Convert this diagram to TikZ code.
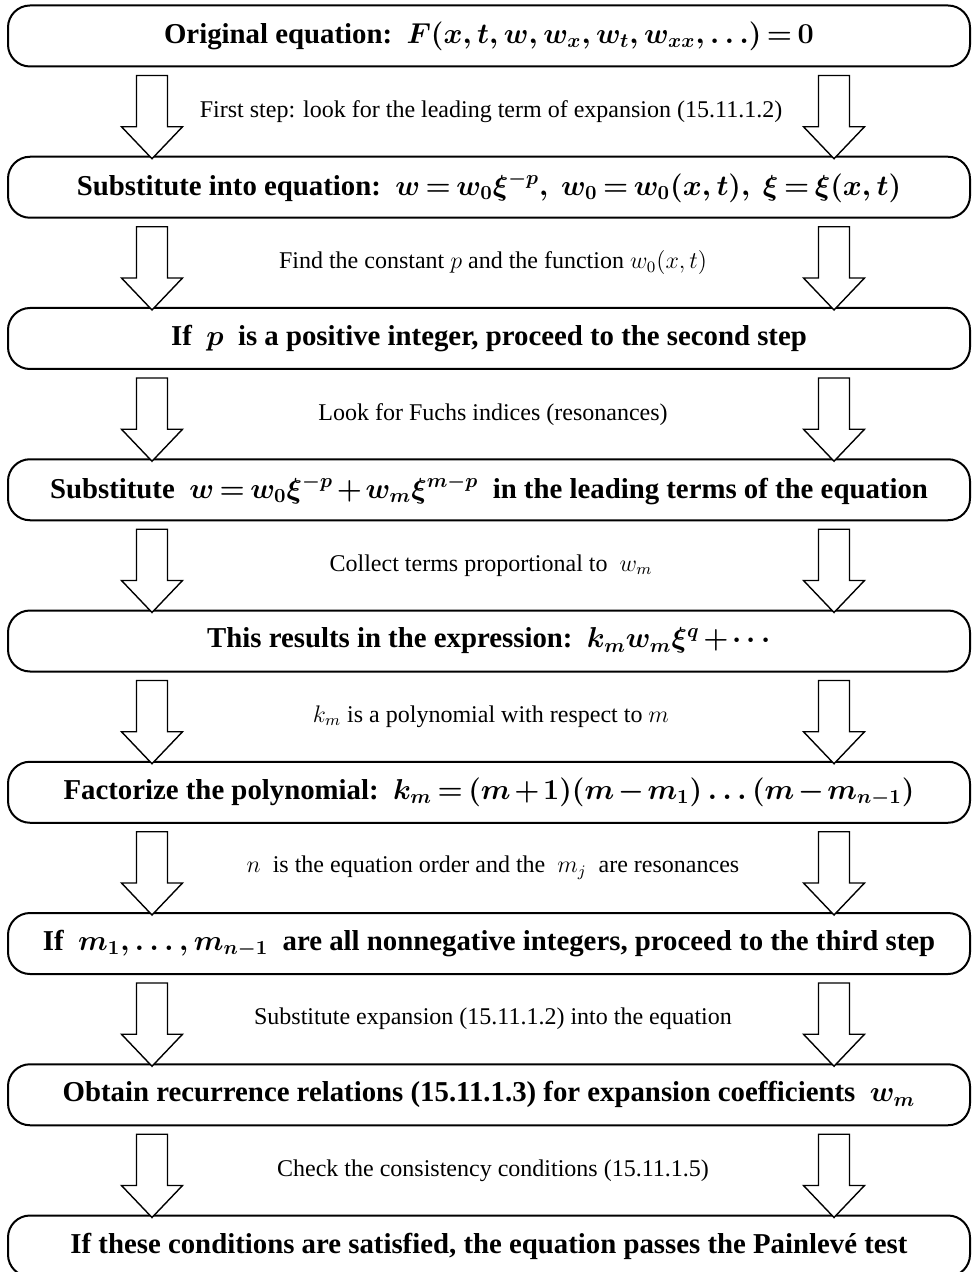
\documentclass[tikz,border=0pt]{standalone}
\usepackage[no-math]{fontspec}
\setmainfont{Liberation Serif}
\usetikzlibrary{calc}
\DeclareMathSizes{14.4}{13.6}{10}{7}
\newcommand{\tightmath}{\thickmuskip=3mu plus 2mu\relax\medmuskip=2mu plus 1mu\relax}

\tikzset{
  stepbox/.style={draw, line width=1pt, rounded corners=11pt, minimum width=481pt,
    minimum height=30.5pt, inner sep=0pt,
    font=\fontsize{14.4}{17}\selectfont\bfseries\boldmath\tightmath},
  steplabel/.style={font=\fontsize{12}{14}\selectfont, inner sep=1pt},
  fat/.style={draw, line width=0.7pt, line join=miter, fill=white},
}

% hollow block arrow: top of shaft, tip
\newcommand{\blockarrow}[2]{%
  \draw[fat] ($(#1)+(-7.75pt,0)$) -- ($(#2)+(-7.75pt,16pt)$) -- ($(#2)+(-15.25pt,16pt)$) -- (#2)
    -- ($(#2)+(15.25pt,16pt)$) -- ($(#2)+(7.75pt,16pt)$) -- ($(#1)+(7.75pt,0)$) -- cycle;}

\begin{document}
\begin{tikzpicture}
\fill[white] (0,0) rectangle (486pt,-636pt);
\useasboundingbox (0,0) rectangle (486pt,-636pt);

% steps
\node[stepbox] (b1) at (244.5pt,-18pt) {Original equation:~~$F(x,t,w,w_x,w_t,w_{xx},\dots)=0$};
\node[stepbox] (b2) at (244.5pt,-93.625pt) {Substitute into equation:~~$w=w_0\xi^{-p},\ w_0=w_0(x,t),\ \xi=\xi(x,t)$};
\node[stepbox] (b3) at (244.5pt,-169.25pt) {If~~$p$~~is a positive integer, proceed to the second step};
\node[stepbox] (b4) at (244.5pt,-244.875pt) {Substitute~~$w=w_0\xi^{-p}+w_m\xi^{m-p}$~~in the leading terms of the equation};
\node[stepbox] (b5) at (244.5pt,-320.5pt) {This results in the expression:~~$k_mw_m\xi^q+\cdots$};
\node[stepbox] (b6) at (244.5pt,-396.125pt) {Factorize the polynomial:~~$k_m=(m+1)(m-m_1)\dots(m-m_{n-1})$};
\node[stepbox] (b7) at (244.5pt,-471.75pt) {If~~$m_1,\dots,m_{n-1}$~~are all nonnegative integers, proceed to the third step};
\node[stepbox] (b8) at (244.5pt,-547.375pt) {Obtain recurrence relations (15.11.1.3) for expansion coefficients~~$w_m$};
\node[stepbox] (b9) at (244.5pt,-623pt) {If these conditions are satisfied, the equation passes the Painlev\'e test};

% arrows
\foreach \i [evaluate=\i as \j using int(\i+1)] in {1,...,8}{
  \path (b\i.south west) ++(72.5pt,-4pt) coordinate (lt\i);
  \path (b\j.north west) ++(72.5pt,-1.5pt) coordinate (lh\i);
  \path (b\i.south east) ++(-68.5pt,-4pt) coordinate (rt\i);
  \path (b\j.north east) ++(-68.5pt,-1.5pt) coordinate (rh\i);
  \blockarrow{lt\i}{lh\i}
  \blockarrow{rt\i}{rh\i}
}

% labels
\node[steplabel] (l1) at ($(b1.south)!0.5!(b2.north)+(1pt,0)$) {First step: look for the leading term of expansion (15.11.1.2)};
\node[steplabel] (l2) at ($(b2.south)!0.5!(b3.north)+(2pt,0)$) {Find the constant $p$ and the function $w_0(x,t)$};
\node[steplabel] (l3) at ($(b3.south)!0.5!(b4.north)+(2pt,0)$) {Look for Fuchs indices (resonances)};
\node[steplabel] (l4) at ($(b4.south)!0.5!(b5.north)+(1pt,0)$) {Collect terms proportional to~~$w_m$};
\node[steplabel] (l5) at ($(b5.south)!0.5!(b6.north)+(1pt,0)$) {$k_m$ is a polynomial with respect to $m$};
\node[steplabel] (l6) at ($(b6.south)!0.5!(b7.north)+(2pt,0)$) {$n$~~is the equation order and the~~$m_j$~~are resonances};
\node[steplabel] (l7) at ($(b7.south)!0.5!(b8.north)+(2pt,0)$) {Substitute expansion (15.11.1.2) into the equation};
\node[steplabel] (l8) at ($(b8.south)!0.5!(b9.north)+(2pt,0)$) {Check the consistency conditions (15.11.1.5)};
\end{tikzpicture}
\end{document}
